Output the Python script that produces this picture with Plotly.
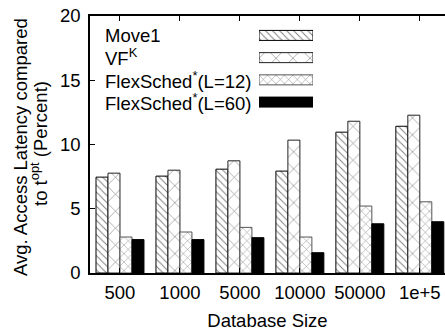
import plotly.graph_objects as go

categories = ["500", "1000", "5000", "10000", "50000", "1e+5"]
move1 = [7.46, 7.54, 8.08, 7.93, 10.96, 11.42]
vfk = [7.77, 8.00, 8.73, 10.34, 11.81, 12.28]
flex12 = [2.80, 3.19, 3.55, 2.80, 5.21, 5.54]
flex60 = [2.60, 2.60, 2.75, 1.58, 3.83, 3.99]

series_names = ["Move1", "VF<sup>K</sup>", "FlexSched<sup>*</sup>(L=12)", "FlexSched<sup>*</sup>(L=60)"]
series_values = [move1, vfk, flex12, flex60]
patterns = [
    dict(shape="\\", size=5, solidity=0.2, fgcolor="black", bgcolor="white"),
    dict(shape="x", size=12, solidity=0.1, fgcolor="black", bgcolor="white"),
    dict(shape="x", size=6, solidity=0.15, fgcolor="black", bgcolor="white"),
    dict(shape="", fgcolor="black", bgcolor="black"),
]
line_colors = ["black", "#222", "#555", "black"]
fills = ["white", "white", "white", "black"]

FONT = "Liberation Sans, Arial, sans-serif"
FS = 18.5
W, H = 445, 331
L, R, T, B = 90, 0, 16, 58
PW, PH = W - L - R, H - T - B

fig = go.Figure()
for name, vals, pat, lc, fc in zip(series_names, series_values, patterns, line_colors, fills):
    fig.add_trace(go.Bar(
        x=categories, y=vals, name=name, showlegend=False,
        marker=dict(color=fc, pattern=pat, line=dict(color=lc, width=1)),
    ))

# legend swatches (custom legend: text left, swatch right)
for i, (pat, lc, fc) in enumerate(zip(patterns, line_colors, fills)):
    fig.add_trace(go.Bar(
        x=[1], y=[i], orientation="h", xaxis="x2", yaxis="y2", width=0.45,
        showlegend=False, hoverinfo="skip",
        marker=dict(color=fc, pattern=pat, line=dict(color=lc, width=1)),
    ))

def py(px):
    return (T + PH - px) / PH

def pxx(px):
    return (px - L) / PW

row_px = [35.5, 57.5, 79.5, 102]
for name, ypx in zip(series_names, row_px):
    fig.add_annotation(
        x=pxx(103), y=py(ypx), xref="paper", yref="paper",
        text=name, showarrow=False, xanchor="left", yanchor="middle",
        font=dict(family=FONT, size=FS, color="black"),
    )

# two-line y title as rotated annotations
fig.add_annotation(
    x=pxx(20), y=py(147), xref="paper", yref="paper", textangle=-90,
    text="Avg. Access Latency compared", showarrow=False,
    xanchor="center", yanchor="middle", font=dict(family=FONT, size=FS, color="black"),
)
fig.add_annotation(
    x=pxx(39), y=py(144), xref="paper", yref="paper", textangle=-90,
    text="to t<sup>opt</sup> (Percent)", showarrow=False,
    xanchor="center", yanchor="middle", font=dict(family=FONT, size=FS, color="black"),
)

fig.update_layout(
    width=W, height=H,
    margin=dict(l=L, r=R, t=T, b=B),
    paper_bgcolor="white", plot_bgcolor="white",
    barmode="group", bargap=0.2, bargroupgap=0,
    font=dict(family=FONT, size=FS, color="black"),
    xaxis=dict(
        range=[-0.5, 5.42], showline=True, linecolor="black", linewidth=1.5,
        mirror="ticks", ticks="inside", ticklen=5, tickcolor="black",
        showgrid=False, tickfont=dict(size=FS), automargin=False, ticklabelstandoff=2,
        title=dict(text="Database Size", font=dict(size=FS), standoff=14),
    ),
    yaxis=dict(
        range=[0, 20], dtick=5, showline=True, linecolor="black", linewidth=1.5,
        ticks="inside", ticklen=5, tickcolor="black", showgrid=False, zeroline=False,
        tickfont=dict(size=FS), ticklabelstandoff=4, automargin=False,
    ),
    yaxis3=dict(
        overlaying="y", side="right", anchor="x", range=[0, 20], dtick=5,
        ticks="inside", ticklen=5, tickcolor="black", showline=False,
        showticklabels=False, showgrid=False, zeroline=False,
    ),
    xaxis2=dict(domain=[pxx(259), pxx(313)], range=[0, 1], anchor="y2",
                visible=False, fixedrange=True),
    yaxis2=dict(domain=[py(113.2), py(24.3)], range=[3.5, -0.5], anchor="x2",
                visible=False, fixedrange=True),
)

fig.write_html("out.html", config={"displayModeBar": False},
               post_script="document.body.style.margin='0';")
